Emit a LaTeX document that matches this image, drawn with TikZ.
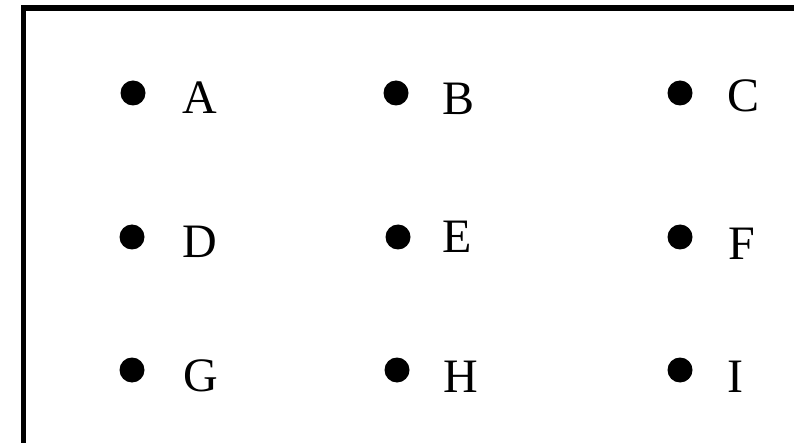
\documentclass[tikz,border=0pt]{standalone}
\usepackage{fontspec}
\setmainfont{Liberation Serif}

\begin{document}
\begin{tikzpicture}[x=1pt,y=-1pt,
  dot/.style={circle,fill=black,inner sep=0pt,minimum size=25pt},
  lbl/.style={anchor=base west,inner sep=0pt,font=\fontsize{48}{52}\selectfont}]
\useasboundingbox (0,0) rectangle (794,443);
\draw[line width=5.5pt] (23.5,443)--(23.5,8)--(794,8);
% first row
\node[dot] (dA) at (133,93) {}; \node[lbl] (A) at (182,114) {A};
\node[dot] (dB) at (396,93) {}; \node[lbl] (B) at (442,115) {B};
\node[dot] (dC) at (680,93) {}; \node[lbl] (C) at (727,112) {C};
% second row
\node[dot] (dD) at (132,237) {}; \node[lbl] (D) at (182,258) {D};
\node[dot] (dE) at (398,237) {}; \node[lbl] (E) at (442,253) {E};
\node[dot] (dF) at (680,237) {}; \node[lbl] (F) at (728,260) {F};
% third row
\node[dot] (dG) at (132,370) {}; \node[lbl] (G) at (183,391) {G};
\node[dot] (dH) at (397,370) {}; \node[lbl] (H) at (443,392) {H};
\node[dot] (dI) at (680,370) {}; \node[lbl] (I) at (727,392) {I};
\end{tikzpicture}
\end{document}
